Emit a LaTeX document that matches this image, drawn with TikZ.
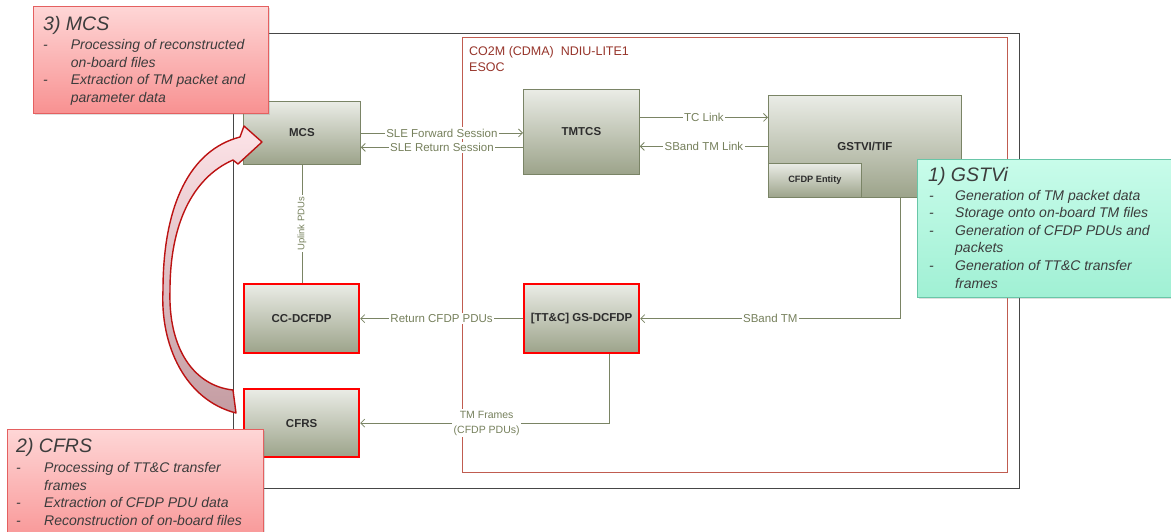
\documentclass[tikz,border=0pt]{standalone}
\usepackage{fontspec}
\setmainfont{Liberation Sans}
\usetikzlibrary{arrows.meta,shadows}
\definecolor{boxtop}{RGB}{234,236,230}
\definecolor{boxbot}{RGB}{156,163,138}
\definecolor{boxborder}{RGB}{122,132,102}
\definecolor{boxtext}{RGB}{45,45,45}
\definecolor{conncol}{RGB}{122,132,100}
\definecolor{lblcol}{RGB}{118,128,92}
\definecolor{outercol}{RGB}{70,70,70}
\definecolor{redframe}{RGB}{192,92,80}
\definecolor{frametxt}{RGB}{150,52,42}
\definecolor{pinktop}{RGB}{254,214,214}
\definecolor{pinkbot}{RGB}{248,145,145}
\definecolor{pinkborder}{RGB}{228,96,96}
\definecolor{minttop}{RGB}{200,252,234}
\definecolor{mintbot}{RGB}{160,240,212}
\definecolor{mintborder}{RGB}{105,198,168}
\definecolor{notetext}{RGB}{60,60,60}
\definecolor{arrowtop}{RGB}{253,228,232}
\definecolor{arrowbot}{RGB}{196,156,162}
\definecolor{arrowred}{RGB}{188,18,18}
\begin{document}
\begin{tikzpicture}[x=1pt,y=-1pt,
  >={Straight Barb[length=4pt,width=8pt]},
  box/.style={draw=boxborder, line width=0.8pt, top color=boxtop, bottom color=boxbot,
    anchor=north west, inner sep=0pt, text=boxtext,
    font=\fontsize{11.5}{13}\selectfont\bfseries},
  redbox/.style={box, draw=red, line width=2.2pt},
  conn/.style={draw=conncol, line width=0.8pt},
  lbl/.style={fill=white, inner sep=1.5pt, text=lblcol, font=\fontsize{11.5}{13}\selectfont},
  note/.style={anchor=north west, line width=0.8pt, inner sep=0pt,
    drop shadow={opacity=0.25, shadow xshift=2pt, shadow yshift=-2pt}},
  notered/.style={note, draw=pinkborder, top color=pinktop, bottom color=pinkbot},
  notegreen/.style={note, draw=mintborder, top color=minttop, bottom color=mintbot},
  notettl/.style={anchor=base west, inner sep=0pt, text=notetext,
    font=\fontsize{19.5}{22}\selectfont\itshape},
  noteitems/.style={anchor=base west, inner sep=0pt, text=notetext,
    font=\fontsize{14}{17.6}\selectfont\itshape},
  frame/.style={anchor=north west, inner sep=0pt}
]
\useasboundingbox (0,0) rectangle (1171,531);

% frames
\node[frame, draw=outercol, line width=1.1pt, minimum width=786pt, minimum height=455pt] (outer) at (233,33) {};
\node[frame, draw=redframe, line width=0.9pt, minimum width=545pt, minimum height=435pt] (inner) at (462,37) {};
\node[anchor=base west, inner sep=0pt, text=frametxt, font=\fontsize{12.5}{15}\selectfont] (ftitle) at (469,55.7) {CO2M (CDMA)\ \ NDIU-LITE1};
\node[anchor=base west, inner sep=0pt, text=frametxt, font=\fontsize{12.5}{15}\selectfont] (esoc) at (469,71) {ESOC};

% boxes
\node[box, minimum width=117pt, minimum height=63pt] (mcs) at (243,101) {MCS};
\node[box, minimum width=116pt, minimum height=85pt] (tmtcs) at (523,89) {TMTCS};
\node[box, minimum width=193pt, minimum height=102pt] (gstvi) at (768,95) {GSTVI/TIF};
\node[box, minimum width=93pt, minimum height=34pt, font=\fontsize{9.2}{11}\selectfont\bfseries] (cfdpent) at (768,163) {CFDP Entity};
\node[redbox, minimum width=115pt, minimum height=69pt] (ccdcfdp) at (243,283) {CC-DCFDP};
\node[redbox, minimum width=115pt, minimum height=69pt] (gsdcfdp) at (523,283) {[TT\&C] GS-DCFDP};
\node[redbox, minimum width=115pt, minimum height=68pt] (cfrs) at (243,388) {CFRS};

% connectors
\draw[conn,->] (mcs.east) -- node[lbl]{SLE Forward Session} (mcs.east -| tmtcs.west);
\coordinate (ret) at ([yshift=-14.5pt]mcs.east);
\draw[conn,<-] (ret) -- node[lbl]{SLE Return Session} (ret -| tmtcs.west);
\coordinate (tc) at ([yshift=29pt]gstvi.west);
\draw[conn,->] (tc -| tmtcs.east) -- node[lbl]{TC Link} (tc);
\draw[conn,->] (gstvi.west) -- node[lbl]{SBand TM Link} (gstvi.west -| tmtcs.east);
\draw[conn] (mcs.south) -- node[lbl, rotate=90, font=\fontsize{9.5}{11}\selectfont]{Uplink PDUs} (mcs.south |- ccdcfdp.north);
\draw[conn,->] (gsdcfdp.west) -- node[lbl]{Return CFDP PDUs} (ccdcfdp.east);
\draw[conn,->] ([xshift=35.5pt]gstvi.south) |- node[lbl,pos=0.75]{SBand TM} (gsdcfdp.east);
\draw[conn,->] ([xshift=27.5pt]gsdcfdp.south) |- node[lbl,pos=0.746,align=center,font=\fontsize{10.5}{15}\selectfont]{TM Frames\\(CFDP PDUs)} (cfrs.east);

% big curved arrow
\path[draw=arrowred, line width=1.4pt, line join=round, top color=arrowtop, bottom color=arrowbot]
  (236,413) .. controls (185,400) and (160,345) .. (163,290)
  .. controls (163,205) and (190,150) .. (240,137)
  -- (244,126) -- (262,142) -- (238,164) -- (233,160)
  .. controls (192,178) and (170,225) .. (170,290)
  .. controls (168,350) and (195,386) .. (233,390) -- cycle;

% callouts
\node[notered, minimum width=235pt, minimum height=107pt] (mcsnote) at (33,6) {};
\node[notettl] (mcsttl) at (43,30.7) {3) MCS};
\node[noteitems] (mcsitems) at (43,49.5) {\begin{tabular}[t]{@{}p{27.7pt}@{}l@{}}-&Processing of reconstructed\\&on-board files\\-&Extraction of TM packet and\\&parameter data\end{tabular}};

\node[notegreen, minimum width=256pt, minimum height=138pt] (gstvinote) at (917,159) {};
\node[notettl] (gstvittl) at (928,181.7) {1) GSTVi};
\node[noteitems] (gstviitems) at (929,200) {\begin{tabular}[t]{@{}p{26pt}@{}l@{}}-&Generation of TM packet data\\-&Storage onto on-board TM files\\-&Generation of CFDP PDUs and\\&packets\\-&Generation of TT\&C transfer\\&frames\end{tabular}};

\node[notered, minimum width=256pt, minimum height=120pt] (cfrsnote) at (7,429) {};
\node[notettl] (cfrsttl) at (16,452.7) {2) CFRS};
\node[noteitems] (cfrsitems) at (16,472.7) {\begin{tabular}[t]{@{}p{28pt}@{}l@{}}-&Processing of TT\&C transfer\\&frames\\-&Extraction of CFDP PDU data\\-&Reconstruction of on-board files\end{tabular}};
\end{tikzpicture}
\end{document}
